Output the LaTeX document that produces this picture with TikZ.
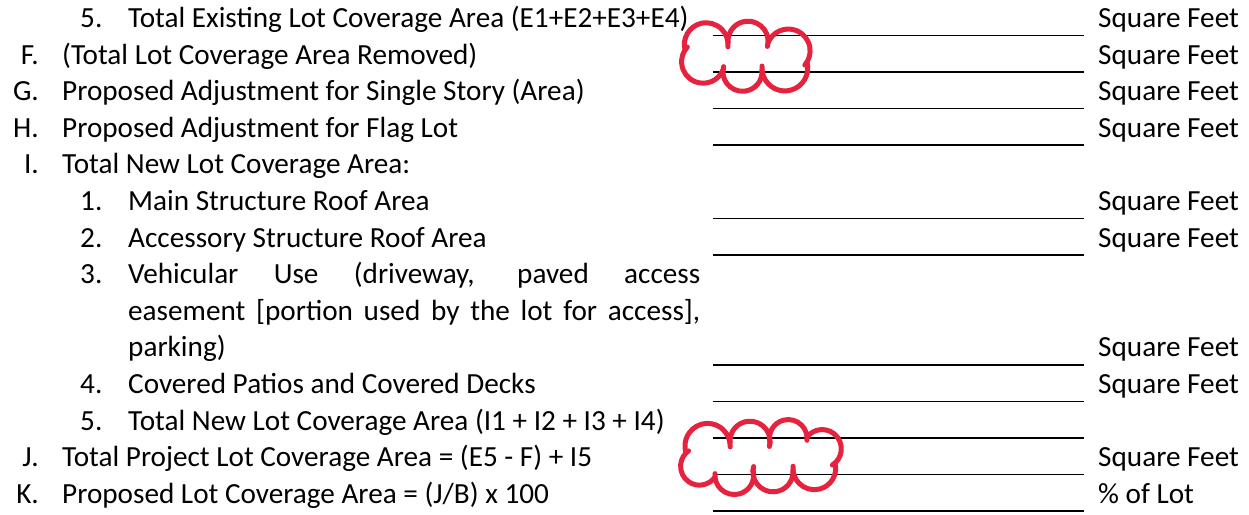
\documentclass[tikz,border=0pt]{standalone}
\usepackage{fontspec}
\setmainfont{Carlito}
\usetikzlibrary{calc}
\definecolor{cloudred}{HTML}{E6233F}

\begin{document}
\begin{tikzpicture}[x=1pt, y=1pt,
    font=\fontsize{29.2}{36.6}\selectfont,
    LBL/.style={anchor=base east, inner sep=0pt},
    NUM/.style={anchor=base west, inner sep=0pt},
    TXT/.style={anchor=base west, inner sep=0pt},
    UNIT/.style={anchor=base west, inner sep=0pt},
    BLANK/.style={line width=1.6pt},
    CLOUD/.style={draw=cloudred, line width=5pt, line cap=round}
    ]
    \useasboundingbox (0,-514) rectangle (1249,0);

    % left column: letters and numbers
    \node[NUM] (n0) at (80,-27.5) {5.};
    \node[TXT] (t0) at (128,-27.5) {Total Existing Lot Coverage Area (E1+E2+E3+E4)};
    \node[LBL] (lF) at (39,-64.1) {F.};
    \node[TXT] (tF) at (62,-64.1) {(Total Lot Coverage Area Removed)};
    \node[LBL] (lG) at (39,-100.7) {G.};
    \node[TXT] (tG) at (62,-100.7) {Proposed Adjustment for Single Story (Area)};
    \node[LBL] (lH) at (39,-137.3) {H.};
    \node[TXT] (tH) at (62,-137.3) {Proposed Adjustment for Flag Lot};
    \node[LBL] (lI) at (39,-173.9) {I.};
    \node[TXT] (tI) at (62,-173.9) {Total New Lot Coverage Area:};
    \node[NUM] (n1) at (80,-210.5) {1.};
    \node[TXT] (t1) at (128,-210.5) {Main Structure Roof Area};
    \node[NUM] (n2) at (80,-247.1) {2.};
    \node[TXT] (t2) at (128,-247.1) {Accessory Structure Roof Area};
    \node[NUM] (n3) at (80,-283.7) {3.};
    \node[TXT, text width=572pt, align=justify] (t3) at (128,-283.7)
        {Vehicular Use (driveway, paved access\linebreak easement [portion used by the lot for access],\linebreak parking)};
    \node[NUM] (n4) at (80,-393.5) {4.};
    \node[TXT] (t4) at (128,-393.5) {Covered Patios and Covered Decks};
    \node[NUM] (n5) at (80,-430.1) {5.};
    \node[TXT] (t5) at (128,-430.1) {Total New Lot Coverage Area (I1 + I2 + I3 + I4)};
    \node[LBL] (lJ) at (39,-466.7) {J.};
    \node[TXT] (tJ) at (62,-466.7) {Total Project Lot Coverage Area = (E5 - F) + I5};
    \node[LBL] (lK) at (39,-503.3) {K.};
    \node[TXT] (tK) at (62,-503.3) {Proposed Lot Coverage Area = (J/B) x 100};

    % right column: units
    \foreach \k/\u in {0/Square Feet, 1/Square Feet, 2/Square Feet, 3/Square Feet,
                       5/Square Feet, 6/Square Feet, 9/Square Feet, 10/Square Feet,
                       12/Square Feet, 13/\% of Lot}
        \node[UNIT] (u\k) at (1098,{-27.5-36.6*\k}) {\u};

    % blanks to fill in
    \foreach \k in {0,1,2,3,5,6,9,10,11,12,13}
        \draw[BLANK] (713,{-35.3-36.6*\k}) -- (1084,{-35.3-36.6*\k});

    % revision clouds
    \coordinate (cA1) at (685,-50);
    \coordinate (cA2) at (728,-43);
    \coordinate (cA3) at (768,-43);
    \coordinate (cA4) at (807,-62);
    \coordinate (cA5) at (762,-70);
    \coordinate (cA6) at (723,-70);
    \coordinate (cB1) at (686,-453);
    \coordinate (cB2) at (730,-443);
    \coordinate (cB3) at (770,-443);
    \coordinate (cB4) at (807,-437);
    \coordinate (cB5) at (835,-463);
    \coordinate (cB6) at (793,-470);
    \coordinate (cB7) at (753,-470);
    \coordinate (cB8) at (715,-477);
    \foreach \a/\b in {cA1/cA2, cA2/cA3, cA3/cA4, cA4/cA5, cA5/cA6, cA6/cA1,
                       cB1/cB2, cB2/cB3, cB3/cB4, cB4/cB5, cB5/cB6, cB6/cB7, cB7/cB8, cB8/cB1}
        \draw[CLOUD] let \p1=($(\b)-(\a)$), \n1={atan2(\y1,\x1)}, \n2={veclen(\x1,\y1)/(2*sin(95))}
            in (\a) arc[start angle=\n1+185, delta angle=-200, radius=\n2];
\end{tikzpicture}
\end{document}
